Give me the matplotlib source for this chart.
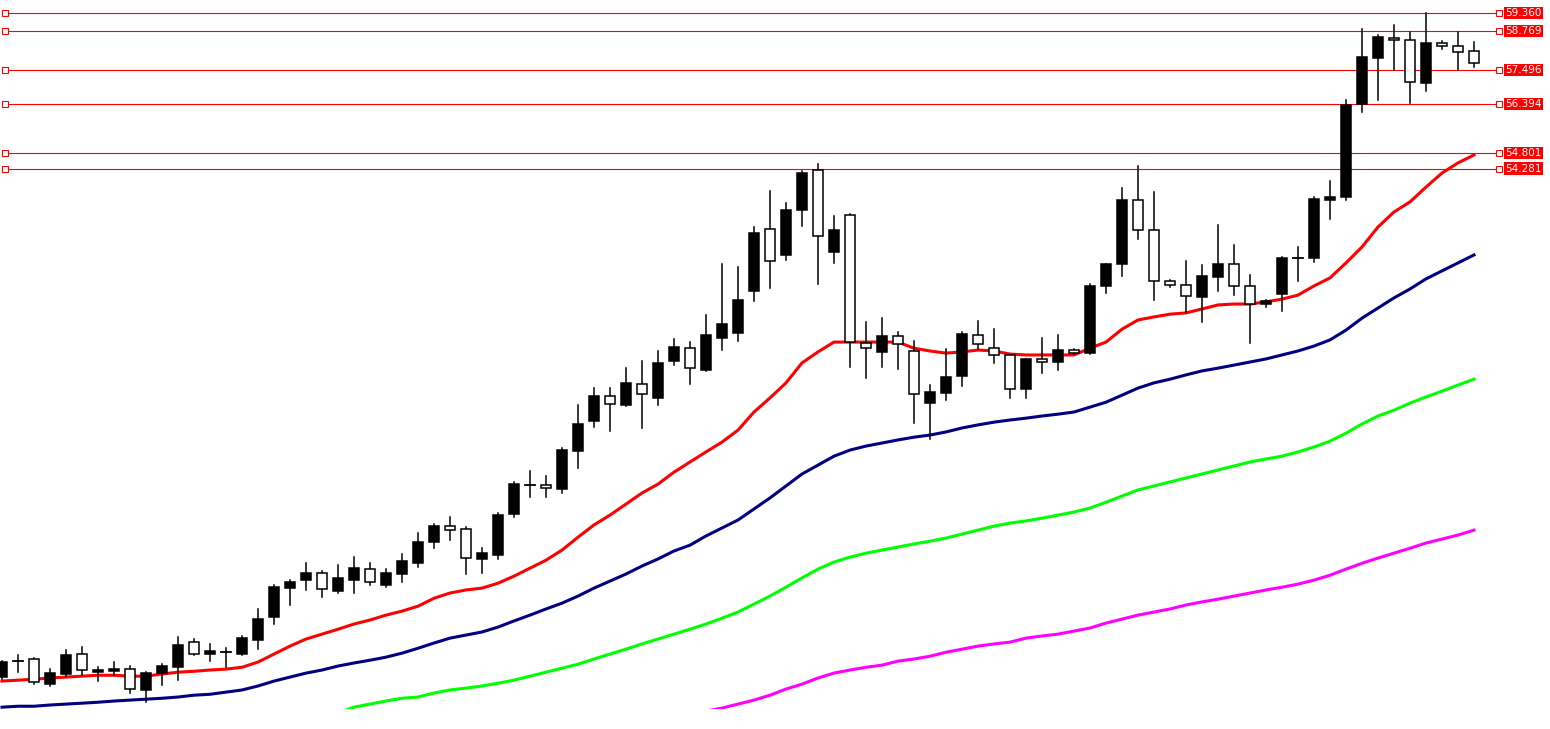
import matplotlib
matplotlib.use("Agg")
import matplotlib.pyplot as plt
from matplotlib.patches import Rectangle
import numpy as np

# OHLC, one candle per bar
opens = [37.71, 38.23, 38.30, 37.48, 37.81, 38.46, 37.87, 37.90, 37.97, 37.29,
         37.84, 38.03, 38.85, 38.46, 38.52, 38.46, 38.91, 39.67, 40.61, 40.87,
         41.10, 40.51, 40.87, 41.23, 40.71, 41.07, 41.42, 42.11, 42.63, 42.54,
         41.56, 41.69, 43.02, 43.97, 43.97, 43.84, 45.08, 46.06, 46.87, 46.58,
         47.26, 46.80, 48.01, 48.43, 47.72, 48.76, 48.92, 50.29, 52.31, 51.47,
         52.93, 54.24, 51.56, 52.77, 48.60, 48.30, 48.83, 48.34, 46.64, 46.97,
         47.52, 48.86, 48.43, 48.20, 47.10, 48.07, 47.98, 48.37, 48.27, 50.45,
         51.17, 53.26, 52.28, 50.62, 50.49, 50.10, 50.75, 51.17, 50.45, 49.87,
         50.20, 51.37, 51.37, 53.26, 53.36, 56.39, 57.89, 58.54, 58.48, 57.07,
         58.38, 58.28, 58.12]
highs = [38.25, 38.42, 38.33, 37.97, 38.59, 38.68, 38.03, 38.20, 38.07, 37.87,
         38.13, 39.01, 38.95, 38.78, 38.65, 39.05, 39.93, 40.71, 40.87, 41.42,
         41.16, 41.36, 41.62, 41.42, 41.23, 41.72, 42.41, 42.70, 42.93, 42.60,
         41.91, 43.06, 44.07, 44.43, 44.26, 45.18, 46.58, 47.13, 47.13, 47.78,
         48.01, 48.34, 48.73, 48.63, 49.51, 51.17, 51.08, 52.38, 53.55, 53.16,
         54.21, 54.43, 52.74, 52.80, 49.28, 49.41, 48.96, 48.66, 47.23, 48.40,
         48.96, 49.32, 49.05, 48.22, 48.09, 48.76, 48.86, 48.40, 50.52, 51.19,
         53.65, 54.37, 53.52, 50.65, 51.27, 51.14, 52.44, 51.79, 50.81, 50.00,
         51.40, 51.73, 53.36, 53.88, 56.52, 58.83, 58.64, 58.97, 58.74, 59.36,
         58.44, 58.74, 58.41]
lows = [37.65, 37.87, 37.48, 37.42, 37.74, 37.77, 37.58, 37.77, 37.19, 36.89,
        37.45, 37.61, 38.44, 38.23, 38.03, 38.44, 38.62, 39.44, 40.06, 40.55,
        40.32, 40.45, 40.45, 40.71, 40.64, 40.81, 41.29, 41.91, 42.18, 41.07,
        41.10, 41.56, 42.93, 43.58, 43.58, 43.71, 44.52, 45.86, 45.73, 46.54,
        45.83, 46.58, 47.88, 47.26, 47.69, 48.37, 48.66, 49.97, 50.39, 51.30,
        52.41, 50.52, 51.21, 47.82, 47.46, 47.82, 47.75, 45.99, 45.47, 46.74,
        47.20, 48.40, 47.95, 46.80, 46.80, 47.62, 47.72, 48.24, 48.25, 50.23,
        50.78, 51.99, 50.00, 50.42, 49.61, 49.28, 50.29, 50.16, 48.60, 49.78,
        49.64, 50.62, 51.24, 52.64, 53.26, 56.13, 56.52, 57.50, 56.42, 56.81,
        58.18, 57.50, 57.60]
closes = [38.20, 38.22, 37.55, 37.84, 38.42, 37.94, 37.94, 37.97, 37.32, 37.84,
          38.07, 38.75, 38.46, 38.56, 38.53, 38.98, 39.60, 40.64, 40.81, 41.10,
          40.58, 40.94, 41.26, 40.81, 41.10, 41.49, 42.11, 42.63, 42.50, 41.59,
          41.75, 42.99, 44.00, 43.98, 43.87, 45.11, 45.96, 46.87, 46.61, 47.30,
          46.94, 47.95, 48.47, 47.78, 48.86, 49.22, 50.00, 52.18, 51.27, 52.93,
          54.14, 52.09, 52.28, 48.63, 48.43, 48.83, 48.57, 46.94, 47.00, 47.49,
          48.89, 48.57, 48.20, 47.10, 48.07, 47.98, 48.37, 48.27, 50.45, 51.17,
          53.26, 52.28, 50.62, 50.49, 50.13, 50.78, 51.17, 50.45, 49.87, 49.97,
          51.37, 51.38, 53.29, 53.36, 56.36, 57.92, 58.57, 58.48, 57.11, 58.38,
          58.28, 58.08, 57.73]

# moving averages
ma_red = [37.58, 37.61, 37.64, 37.68, 37.71, 37.74, 37.77, 37.77, 37.74, 37.74,
          37.81, 37.87, 37.90, 37.94, 37.97, 38.03, 38.20, 38.46, 38.72, 38.95,
          39.11, 39.27, 39.44, 39.57, 39.73, 39.86, 40.02, 40.28, 40.45, 40.55,
          40.61, 40.77, 41.00, 41.26, 41.52, 41.85, 42.27, 42.67, 42.99, 43.35,
          43.71, 44.00, 44.39, 44.72, 45.05, 45.37, 45.76, 46.35, 46.81, 47.30,
          47.95, 48.31, 48.63, 48.63, 48.63, 48.63, 48.63, 48.43, 48.34, 48.27,
          48.31, 48.37, 48.34, 48.24, 48.21, 48.21, 48.21, 48.21, 48.43, 48.63,
          49.05, 49.35, 49.45, 49.54, 49.58, 49.71, 49.84, 49.87, 49.87, 49.94,
          50.03, 50.16, 50.46, 50.72, 51.21, 51.73, 52.38, 52.87, 53.20, 53.68,
          54.14, 54.47, 54.73]
ma_navy = [36.73, 36.76, 36.76, 36.80, 36.83, 36.86, 36.89, 36.93, 36.96, 36.99,
           37.02, 37.06, 37.12, 37.15, 37.22, 37.29, 37.42, 37.58, 37.71, 37.84,
           37.94, 38.07, 38.17, 38.26, 38.36, 38.49, 38.65, 38.82, 38.98, 39.08,
           39.18, 39.34, 39.54, 39.73, 39.93, 40.12, 40.35, 40.61, 40.84, 41.07,
           41.33, 41.56, 41.82, 42.01, 42.31, 42.57, 42.83, 43.19, 43.55, 43.94,
           44.33, 44.62, 44.91, 45.11, 45.24, 45.34, 45.44, 45.53, 45.60, 45.70,
           45.83, 45.93, 46.02, 46.09, 46.15, 46.22, 46.28, 46.35, 46.51, 46.67,
           46.90, 47.13, 47.30, 47.42, 47.56, 47.69, 47.78, 47.88, 47.98, 48.08,
           48.21, 48.34, 48.50, 48.70, 49.02, 49.41, 49.74, 50.07, 50.36, 50.69,
           50.95, 51.21, 51.47]
green_start = 21
ma_green = [36.54, 36.73, 36.83, 36.93, 37.02, 37.06, 37.19, 37.29, 37.35, 37.42,
            37.51, 37.61, 37.74, 37.87, 38.00, 38.13, 38.30, 38.46, 38.62, 38.79,
            38.95, 39.11, 39.27, 39.44, 39.63, 39.83, 40.09, 40.35, 40.64, 40.94,
            41.23, 41.46, 41.62, 41.75, 41.85, 41.95, 42.05, 42.14, 42.24, 42.37,
            42.50, 42.63, 42.73, 42.80, 42.89, 42.99, 43.09, 43.22, 43.41, 43.61,
            43.81, 43.94, 44.07, 44.20, 44.33, 44.46, 44.59, 44.72, 44.82, 44.91,
            45.05, 45.21, 45.40, 45.66, 45.96, 46.22, 46.41, 46.64, 46.84, 47.03,
            47.23, 47.42]
magenta_start = 44
ma_magenta = [36.60, 36.70, 36.83, 36.96, 37.12, 37.32, 37.48, 37.68, 37.84, 37.94,
              38.03, 38.10, 38.23, 38.30, 38.39, 38.52, 38.62, 38.72, 38.79, 38.85,
              38.98, 39.05, 39.11, 39.21, 39.31, 39.47, 39.60, 39.73, 39.83, 39.93,
              40.06, 40.16, 40.25, 40.35, 40.45, 40.55, 40.64, 40.74, 40.87, 41.03,
              41.23, 41.42, 41.59, 41.75, 41.91, 42.08, 42.21, 42.34, 42.50]

levels = [59.360, 58.769, 57.496, 56.394, 54.801, 54.281]

fig = plt.figure(figsize=(15.5, 7.29), dpi=100)
ax = fig.add_axes([0, 20 / 729, 1, 709 / 729])
ax.set_xlim(-0.125, 96.75)
ax.set_ylim(36.67, 59.78)
ax.axis("off")

ppu = 709 / (59.78 - 36.67) / 100 * 72  # points per price unit (unused guard)

# horizontal levels
for lv in levels:
    ax.plot([0.19, 93.56], [lv, lv], color="#ff0000", lw=0.8, zorder=1)
    ax.plot([0.19, 93.56], [lv, lv], ls="none", marker="s", ms=4,
            mfc="white", mec="#ff0000", mew=0.8, zorder=2)
    ax.text(93.94, lv, f"{lv:.3f}", color="white", fontsize=7.5,
            va="center", ha="left", zorder=5,
            bbox=dict(boxstyle="square,pad=0.12", fc="#ff0000", ec="none"))

x = np.arange(len(opens))
ax.plot(x, ma_red, color="#ff0000", lw=2.2, zorder=3)
ax.plot(x, ma_navy, color="#000080", lw=2.2, zorder=3)
ax.plot(np.arange(green_start, green_start + len(ma_green)), ma_green,
        color="#00ff00", lw=2.2, zorder=3)
ax.plot(np.arange(magenta_start, magenta_start + len(ma_magenta)), ma_magenta,
        color="#ff00ff", lw=2.2, zorder=3)

w = 0.62
min_h = 0.04
for i, (o, h, l, c) in enumerate(zip(opens, highs, lows, closes)):
    ax.plot([i, i], [l, h], color="black", lw=1.1, zorder=4)
    lo, hi = min(o, c), max(o, c)
    if hi - lo < min_h:
        ax.plot([i - w / 2, i + w / 2], [o, o], color="black", lw=1.3, zorder=5)
        continue
    face = "black" if c > o else "white"
    ax.add_patch(Rectangle((i - w / 2, lo), w, hi - lo, fc=face, ec="black",
                           lw=1.1, zorder=5))

fig.savefig("out.png", dpi=100, facecolor="white")
